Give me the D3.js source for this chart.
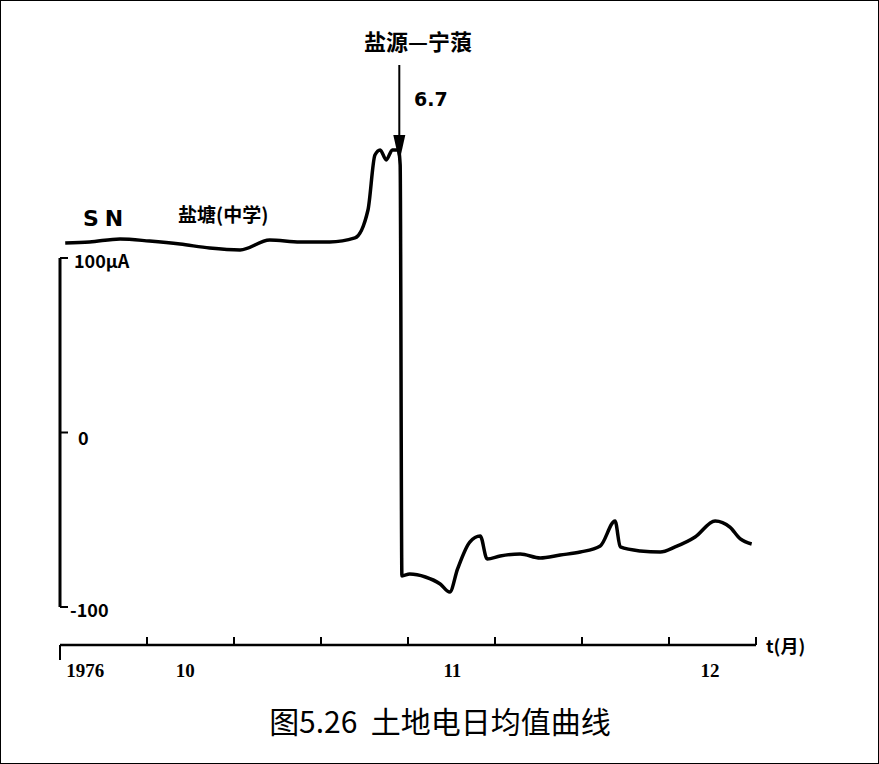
<!DOCTYPE html><html><head><meta charset="utf-8"><script src="https://d3js.org/d3.v7.min.js"></script>
<style>body{margin:0;background:#fff}</style></head><body><svg id="c" width="879" height="764"></svg>
<script>
const days=[0.6,3.4,6.9,10.3,13.8,17.2,20.7,24.1,27.6,31.0,33.9,35.4,36.2,36.8,37.5,38.2,38.9,39.1,39.3,40.2,42.0,43.7,44.8,45.7,47.1,48.3,49.1,50.6,52.9,55.2,57.5,59.8,62.1,63.8,64.4,66.7,69.0,70.7,73.0,75.3,77.0,78.2,79.5];
const values=[108.6,109.2,110.9,109.7,108.0,105.7,104.6,110.3,109.2,109.2,111.5,127.5,159.0,161.9,156.2,161.9,161.9,153.3,-82.2,-81.1,-82.8,-86.8,-91.4,-78.2,-62.8,-59.3,-72.5,-70.8,-69.6,-71.9,-70.2,-68.5,-65.0,-50.7,-65.6,-67.9,-68.5,-65.6,-59.9,-50.7,-54.2,-61.0,-63.9];
const monthLabels=["1976","10","11","12"];
const monthLabelDays=[2.9,14.4,45.1,74.7];
const yTickValues=[100,0,-100];
const yTickLabels=["100μA","0","-100"];
const quakeDay=39.0;
const svg=d3.select("#c");
svg.append("rect").attr("x",0.5).attr("y",0.5).attr("width",878).attr("height",763).attr("fill","none").attr("stroke","#000");
const x=d3.scaleLinear().domain([0,80]).range([60,756]);
const y=d3.scaleLinear().domain([-100,100]).range([607,258]);
const f="'Noto Sans CJK SC','DejaVu Sans',sans-serif";
// y axis
svg.append("line").attr("x1",60).attr("x2",60).attr("y1",y(100)).attr("y2",y(-100)).attr("stroke","#000").attr("stroke-width",3);
yTickValues.forEach((v,i)=>{
 svg.append("line").attr("x1",60).attr("x2",68).attr("y1",y(v)).attr("y2",y(v)).attr("stroke","#000").attr("stroke-width",2);
 svg.append("text").attr("x",i==1?78:(i==0?74:70)).attr("y",y(v)+(i==1?12:10)).attr("font-family",f).attr("font-size",18).attr("font-weight","bold").text(yTickLabels[i]);
});
// x axis
svg.append("line").attr("x1",60).attr("x2",x(80)).attr("y1",645).attr("y2",645).attr("stroke","#000").attr("stroke-width",2.5);
d3.range(0,81,10).forEach(d=>svg.append("line").attr("x1",x(d)).attr("x2",x(d)).attr("y1",645).attr("y2",d==0?660:637).attr("stroke","#000").attr("stroke-width",2));
svg.append("text").attr("x",766).attr("y",653).attr("font-family",f).attr("font-size",18).attr("font-weight","bold").text("t(月)");
monthLabels.forEach((t,i)=>svg.append("text").attr("x",x(monthLabelDays[i])).attr("y",677).attr("text-anchor","middle").attr("font-family","'Liberation Serif',serif").attr("font-size",19).attr("font-weight","bold").text(t));
// curve
svg.append("path").datum(days.map((d,i)=>[d,values[i]])).attr("fill","none").attr("stroke","#000").attr("stroke-width",3.5).attr("stroke-linejoin","round")
 .attr("d",d3.line().x(d=>x(d[0])).y(d=>y(d[1])).curve(d3.curveMonotoneX));
// annotations
svg.append("text").attr("x",83).attr("y",226).attr("font-family","'DejaVu Sans',sans-serif").attr("font-size",22).attr("font-weight","bold").attr("letter-spacing",6).text("SN");
svg.append("text").attr("x",178).attr("y",222).attr("font-family",f).attr("font-size",19).attr("font-weight","bold").text("盐塘(中学)");
svg.append("text").attr("x",418).attr("y",50).attr("text-anchor","middle").attr("font-family",f).attr("font-size",22).attr("font-weight","bold").text("盐源—宁蒗");
const qx=x(quakeDay);
svg.append("line").attr("x1",qx).attr("x2",qx).attr("y1",65).attr("y2",140).attr("stroke","#000").attr("stroke-width",2);
svg.append("path").attr("d",`M${qx-6},135L${qx},162L${qx+6},135Z`).attr("fill","#000");
svg.append("text").attr("x",414).attr("y",106).attr("font-family","'DejaVu Sans',sans-serif").attr("font-size",19).attr("font-weight","bold").text("6.7");
svg.append("text").attr("x",440).attr("y",733).attr("text-anchor","middle").attr("font-family","'Noto Sans CJK SC',sans-serif").attr("font-size",30).attr("xml:space","preserve").text("图5.26  土地电日均值曲线");
</script></body></html>
